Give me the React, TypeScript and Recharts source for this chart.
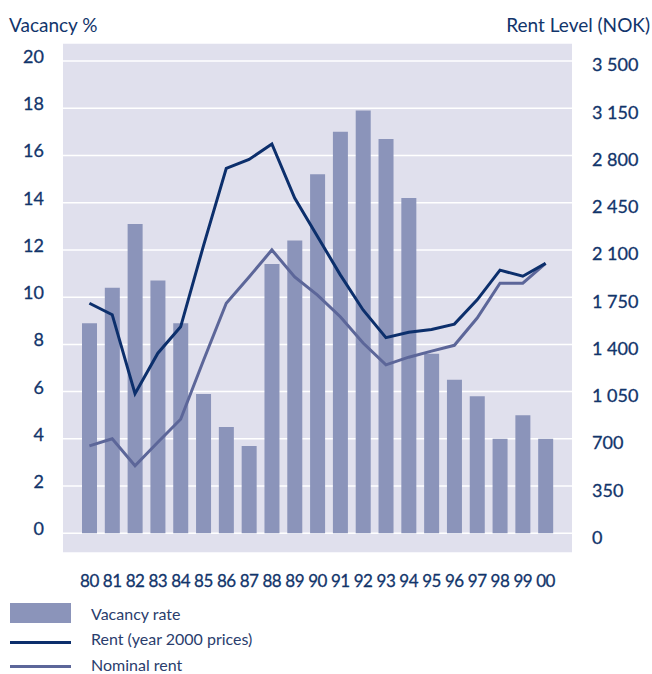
import React from "react";
import {
  ComposedChart,
  Bar,
  Line,
  XAxis,
  YAxis,
  CartesianGrid,
} from "recharts";

const years = ["80", "81", "82", "83", "84", "85", "86", "87", "88", "89", "90", "91", "92", "93", "94", "95", "96", "97", "98", "99", "00"];
const vacancy = [8.9, 10.4, 13.1, 10.7, 8.9, 5.9, 4.5, 3.7, 11.4, 12.4, 15.2, 17.0, 17.9, 16.7, 14.2, 7.6, 6.5, 5.8, 4.0, 5.0, 4.0];
const realRent = [1705, 1620, 1035, 1335, 1530, 2130, 2705, 2770, 2885, 2485, 2200, 1915, 1655, 1450, 1490, 1510, 1550, 1730, 1950, 1905, 2000];
const nominalRent = [648, 700, 500, 675, 845, 1280, 1705, 1900, 2100, 1900, 1765, 1605, 1410, 1248, 1305, 1350, 1393, 1595, 1853, 1853, 2000];

const leftTicks = [0, 2, 4, 6, 8, 10, 12, 14, 16, 18, 20];
const rightTicks = [0, 350, 700, 1050, 1400, 1750, 2100, 2450, 2800, 3150, 3500];

const data = years.map((year, i) => ({
  year,
  vacancy: vacancy[i],
  real: realRent[i],
  nominal: nominalRent[i],
}));

const BAR = "#8b94ba";
const REAL = "#0c2f6c";
const NOMINAL = "#5c6699";
const BG = "#e0e0ed";
const TEXT = "#12356b";
const FONT = "Lato, 'Noto Sans', sans-serif";

// rent axis uses the same scale as vacancy (20 % <-> 3 500 NOK)
const leftDomain = [-0.834, 20.762];
const rightDomain = [leftDomain[0] * 175, leftDomain[1] * 175];

const fmtNok = (v: number) =>
  v >= 1000 ? `${Math.floor(v / 1000)} ${String(v % 1000).padStart(3, "0")}` : String(v);

const LeftTick = ({ x, y, payload }: any) => (
  <text x={x} y={y - 5} textAnchor="end" dominantBaseline="central" fill={TEXT} fontSize={18} fontFamily={FONT} stroke={TEXT} strokeWidth={0.3}>
    {payload.value}
  </text>
);

const RightTick = ({ x, y, payload }: any) => (
  <text x={x} y={y + 3.5} textAnchor="start" dominantBaseline="central" fill={TEXT} fontSize={18} fontFamily={FONT} stroke={TEXT} strokeWidth={0.3}>
    {fmtNok(payload.value)}
  </text>
);

const XTick = ({ x, y, payload }: any) => (
  <text x={x} y={y} textAnchor="middle" dominantBaseline="central" fill={TEXT} fontSize={17} fontFamily={FONT} letterSpacing={-0.5} stroke={TEXT} strokeWidth={0.3}>
    {payload.value}
  </text>
);

const legendRow: React.CSSProperties = {
  position: "absolute",
  left: 10,
  display: "flex",
  alignItems: "center",
  fontFamily: FONT,
  fontSize: 16,
  color: "#2a3d6d",
};

const title: React.CSSProperties = {
  position: "absolute",
  top: 13,
  fontFamily: FONT,
  fontSize: 19,
  color: TEXT,
};

export default function App() {
  return (
    <div style={{ position: "absolute", left: 0, top: 0, width: 652, height: 674, background: "#fff" }}>
      <div style={{ ...title, left: 9 }}>Vacancy %</div>
      <div style={{ ...title, right: 2 }}>Rent Level (NOK)</div>
      <ComposedChart
        width={652}
        height={600}
        data={data}
        margin={{ top: 43, right: 0, bottom: 0, left: 0 }}
        style={{ position: "absolute", left: 0, top: 0 }}
      >
        <CartesianGrid
          yAxisId="left"
          vertical={false}
          fill={BG}
          stroke="#ffffff"
          strokeWidth={1.5}
          strokeOpacity={1}
        />
        <XAxis
          dataKey="year"
          height={47}
          axisLine={false}
          tickLine={false}
          tickSize={0}
          tickMargin={27}
          padding={{ left: 15, right: 15 }}
          interval={0}
          tick={<XTick />}
        />
        <YAxis
          yAxisId="left"
          width={63}
          domain={leftDomain}
          ticks={leftTicks}
          allowDataOverflow
          axisLine={false}
          tickLine={false}
          tickSize={0}
          tickMargin={19}
          tick={<LeftTick />}
        />
        <YAxis
          yAxisId="right"
          orientation="right"
          width={80}
          domain={rightDomain}
          ticks={rightTicks}
          allowDataOverflow
          axisLine={false}
          tickLine={false}
          tickSize={0}
          tickMargin={20}
          tick={<RightTick />}
        />
        <Bar yAxisId="left" dataKey="vacancy" fill={BAR} barSize={15} isAnimationActive={false} />
        <Line
          yAxisId="right"
          dataKey="nominal"
          type="linear"
          stroke={NOMINAL}
          strokeWidth={3}
          dot={false}
          activeDot={false}
          isAnimationActive={false}
        />
        <Line
          yAxisId="right"
          dataKey="real"
          type="linear"
          stroke={REAL}
          strokeWidth={3}
          dot={false}
          activeDot={false}
          isAnimationActive={false}
        />
      </ComposedChart>
      <div style={{ ...legendRow, top: 603 }}>
        <span style={{ width: 61, height: 20, background: BAR, display: "inline-block" }} />
        <span style={{ marginLeft: 20 }}>Vacancy rate</span>
      </div>
      <div style={{ ...legendRow, top: 629 }}>
        <span style={{ width: 61, height: 3, background: REAL, display: "inline-block", marginTop: 8 }} />
        <span style={{ marginLeft: 20 }}>Rent (year 2000 prices)</span>
      </div>
      <div style={{ ...legendRow, top: 655 }}>
        <span style={{ width: 61, height: 3, background: NOMINAL, display: "inline-block", marginTop: 4 }} />
        <span style={{ marginLeft: 20 }}>Nominal rent</span>
      </div>
    </div>
  );
}
